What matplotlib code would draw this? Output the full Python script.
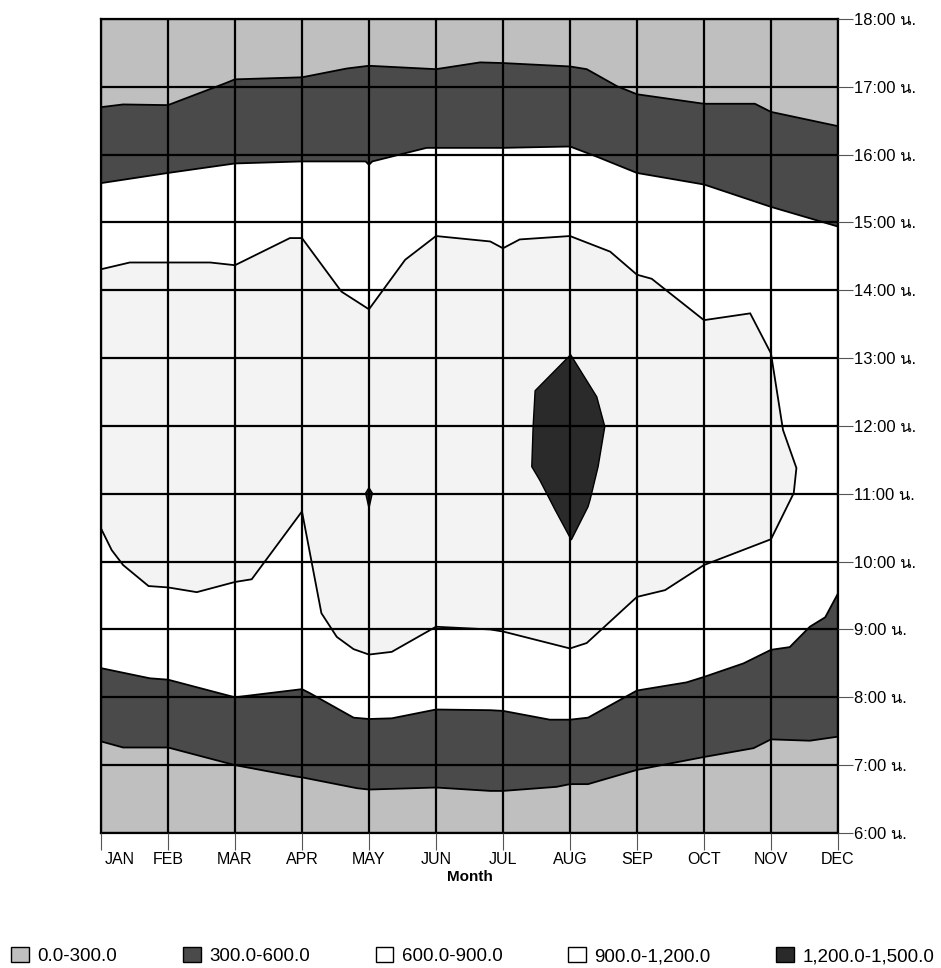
import numpy as np
import matplotlib
matplotlib.use("Agg")
import matplotlib.pyplot as plt
from matplotlib import font_manager
from matplotlib.ft2font import FT2Font
from matplotlib.patches import Patch
from matplotlib.transforms import ScaledTranslation

# ---------------------------------------------------------------- data
months = ["JAN", "FEB", "MAR", "APR", "MAY", "JUN",
          "JUL", "AUG", "SEP", "OCT", "NOV", "DEC"]
hours = list(range(6, 19))
hour_labels = [f"{h}:00 น." for h in hours]

legend_labels = ["0.0-300.0", "300.0-600.0", "600.0-900.0",
                 "900.0-1,200.0", "1,200.0-1,500.0"]

# 300 contour, afternoon side (month index, hour)
eve300_x = [0, 0.33, 1.0, 1.85, 2.0, 3.0, 3.67, 4.0, 5.0, 5.66, 6.0,
            7.0, 7.25, 7.70, 8.0, 9.0, 9.76, 10.0, 11.0]
eve300_y = [16.70, 16.74, 16.73, 17.05, 17.11, 17.14, 17.27, 17.31, 17.26,
            17.36, 17.35, 17.30, 17.26, 17.01, 16.89, 16.75, 16.75, 16.63, 16.42]

# 300 contour, morning side
mor300_x = [0, 0.33, 1.0, 2.0, 2.92, 3.0, 3.82, 4.0, 5.0, 5.81, 6.0,
            6.80, 7.0, 7.27, 8.0, 9.0, 9.74, 9.94, 10.0, 10.58, 11.0]
mor300_y = [7.35, 7.26, 7.26, 7.00, 6.83, 6.82, 6.66, 6.64, 6.67, 6.62, 6.62,
            6.68, 6.72, 6.72, 6.93, 7.12, 7.25, 7.35, 7.38, 7.36, 7.42]

# 600 contour, afternoon side
eve600_x = [0, 1.0, 2.0, 3.0, 3.95, 4.0, 4.05, 4.86, 5.0, 6.0, 7.0,
            7.40, 8.0, 9.0, 10.0, 11.0]
eve600_y = [15.58, 15.73, 15.87, 15.90, 15.90, 15.85, 15.90, 16.10, 16.10,
            16.10, 16.12, 15.97, 15.73, 15.56, 15.23, 14.94]

# 600 contour, morning side
mor600_x = [0, 0.73, 1.0, 2.0, 3.0, 3.12, 3.77, 4.0, 4.34, 5.0, 5.81, 6.0,
            6.70, 7.0, 7.27, 8.0, 8.74, 9.0, 9.59, 10.0, 10.28, 10.58,
            10.81, 11.0]
mor600_y = [8.43, 8.28, 8.26, 8.00, 8.12, 8.06, 7.70, 7.68, 7.69, 7.82, 7.81,
            7.80, 7.67, 7.67, 7.70, 8.10, 8.22, 8.30, 8.50, 8.70, 8.74, 9.04,
            9.18, 9.53]

# 900 contour (closed loop)
c900_x = [0, 0.43, 1.0, 1.63, 2.0, 2.82, 3.0, 3.59, 4.0, 4.54, 5.0, 5.81,
          6.0, 6.25, 7.0, 7.60, 8.0, 8.22, 9.0, 9.69, 10.0, 10.18, 10.38,
          10.34, 10.0, 9.0, 8.42, 8.0, 7.25, 7.0, 6.0, 5.81, 5.0, 4.34, 4.0,
          3.77, 3.52, 3.29, 3.0, 2.25, 2.0, 1.43, 1.0, 0.71, 0.33, 0.16, 0]
c900_y = [14.31, 14.41, 14.41, 14.41, 14.37, 14.77, 14.77, 13.98, 13.72,
          14.45, 14.80, 14.72, 14.62, 14.75, 14.80, 14.57, 14.23, 14.17,
          13.56, 13.66, 13.07, 11.94, 11.38, 11.01, 10.33, 9.95, 9.58, 9.48,
          8.80, 8.72, 8.97, 9.00, 9.04, 8.67, 8.63, 8.71, 8.89, 9.24, 10.74,
          9.74, 9.70, 9.55, 9.62, 9.64, 9.95, 10.17, 10.49]

# 1200 contour, August core
c1200a_x = [7.01, 7.40, 7.52, 7.42, 7.30, 7.27, 7.02, 6.78, 6.55, 6.43,
            6.45, 6.48]
c1200a_y = [13.05, 12.43, 11.99, 11.40, 10.91, 10.81, 10.32, 10.76, 11.20,
            11.40, 11.99, 12.52]

# 1200 contour, small May core
c1200b_x = [4.0, 4.05, 4.0, 3.95]
c1200b_y = [11.09, 11.01, 10.79, 11.01]

# ---------------------------------------------------------------- fonts
def first_font_with(char):
    code = ord(char)
    for entry in font_manager.fontManager.ttflist:
        try:
            if code in FT2Font(entry.fname).get_charmap():
                return entry.name
        except Exception:
            continue
    return None

families = ["Liberation Sans"]
thai = first_font_with("น")
if thai and thai not in families:
    families.append(thai)
families.append("DejaVu Sans")
plt.rcParams["font.family"] = families

# ---------------------------------------------------------------- colours
col_0 = "#bfbfbf"
col_300 = "#4a4a4a"
col_600 = "#ffffff"
col_900 = "#f3f3f3"
col_1200 = "#2a2a2a"
band_colors = [col_0, col_300, col_600, col_900, col_1200]

# ---------------------------------------------------------------- figure
fig = plt.figure(figsize=(9.41, 9.68), dpi=100)
ax = fig.add_axes([0.1073, 0.1395, 0.7832, 0.8409])
ax.set_xlim(0, len(months) - 1)
ax.set_ylim(hours[0], hours[-1])
ax.set_facecolor(col_0)

edge_kw = dict(color="black", linewidth=1.3, zorder=2)

# 300-600 band
ax.fill(np.concatenate([eve300_x, mor300_x[::-1]]),
        np.concatenate([eve300_y, mor300_y[::-1]]),
        facecolor=col_300, edgecolor="none", zorder=1)
# 600-900 band
ax.fill(np.concatenate([eve600_x, mor600_x[::-1]]),
        np.concatenate([eve600_y, mor600_y[::-1]]),
        facecolor=col_600, edgecolor="none", zorder=1.1)
for xs, ys in [(eve300_x, eve300_y), (mor300_x, mor300_y),
               (eve600_x, eve600_y), (mor600_x, mor600_y)]:
    ax.plot(xs, ys, **edge_kw)

# 900-1200 region
ax.fill(c900_x, c900_y, facecolor=col_900, edgecolor="black",
        linewidth=1.3, zorder=1.2)
# 1200-1500 cores
for xs, ys in [(c1200a_x, c1200a_y), (c1200b_x, c1200b_y)]:
    ax.fill(xs, ys, facecolor=col_1200, edgecolor="black",
            linewidth=1.0, zorder=1.3)

# grid on top of the filled bands
ax.set_axisbelow(False)
ax.grid(True, color="black", linewidth=1.6)
for side in ["left", "right", "top", "bottom"]:
    ax.spines[side].set_color("black")
    ax.spines[side].set_linewidth(1.6)

# x axis
ax.set_xticks(range(len(months)))
ax.set_xticklabels(months, fontsize=11.5)
ax.tick_params(axis="x", direction="out", length=12, width=0.8,
               color="#555555", pad=2)
jan = ax.get_xticklabels()[0]
jan.set_horizontalalignment("left")
jan.set_transform(jan.get_transform() +
                  ScaledTranslation(4 / 100, 0, fig.dpi_scale_trans))
ax.set_xlabel("Month", fontsize=11, fontweight="bold", labelpad=2)

# y axis on the right
ax.yaxis.tick_right()
ax.set_yticks(hours)
ax.set_yticklabels(hour_labels, fontsize=12)
ax.tick_params(axis="y", direction="out", length=11, width=0.8,
               color="#555555", pad=0.8, left=False, labelleft=False)

# legend
handles = [Patch(facecolor=c, edgecolor="black", linewidth=1.0)
           for c in band_colors]
handles[3] = Patch(facecolor="white", edgecolor="black", linewidth=1.0)
fig.legend(handles, legend_labels, loc="center left",
           bbox_to_anchor=(0.012, 0.0125), ncol=5, frameon=False,
           fontsize=13.5, handlelength=0.95, handleheight=0.9,
           handletextpad=0.45, columnspacing=3.5, borderpad=0,
           borderaxespad=0)

fig.savefig("out.png", dpi=100)
